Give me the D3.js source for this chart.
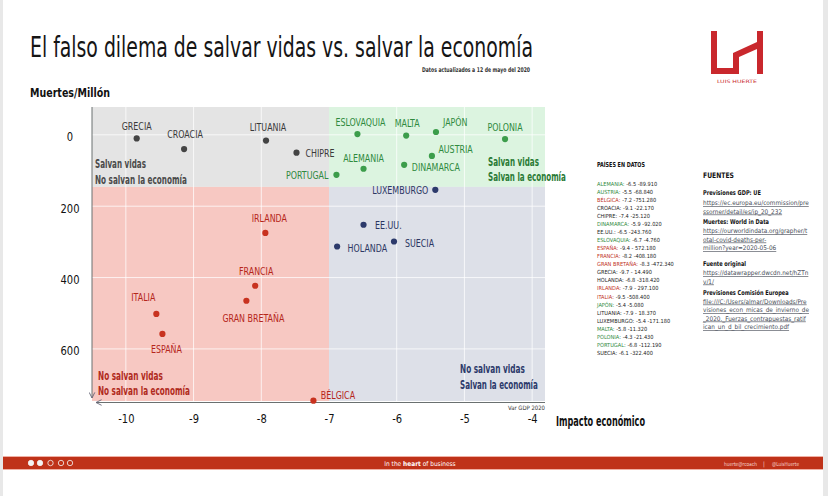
<!DOCTYPE html>
<html><head><meta charset="utf-8">
<script src="https://cdn.jsdelivr.net/npm/d3@7"></script>
<style>
body{margin:0;background:#fff;}
svg{display:block;}
</style></head>
<body>
<svg id="c" width="828" height="496"></svg>
<script>
// ---------- DATA ----------
const countries = ["GRECIA","CROACIA","LITUANIA","CHIPRE","PORTUGAL","ESLOVAQUIA","MALTA","JAPÓN","POLONIA","AUSTRIA","ALEMANIA","DINAMARCA","LUXEMBURGO","EE.UU.","HOLANDA","SUECIA","BÉLGICA","IRLANDA","FRANCIA","GRAN BRETAÑA","ITALIA","ESPAÑA"];
const gdpVar  = [-9.84,-9.14,-7.93,-7.48,-6.89,-6.58,-5.86,-5.42,-4.40,-5.48,-6.49,-5.89,-5.43,-6.49,-6.88,-6.04,-7.23,-7.94,-8.09,-8.22,-9.55,-9.46];
const deathsPM = [10,40,16,50,112,-2,2,-8,12,59,95,84,154,252,313,299,745,275,423,465,502,558];

const xTicks = [-10,-9,-8,-7,-6,-5,-4];
const yTicks = [0,200,400,600];

const listNames  = ["ALEMANIA","AUSTRIA","BÉLGICA","CROACIA","CHIPRE","DINAMARCA","EE.UU.","ESLOVAQUIA","ESPAÑA","FRANCIA","GRAN BRETAÑA","GRECIA","HOLANDA","IRLANDA","ITALIA","JAPÓN","LITUANIA","LUXEMBURGO","MALTA","POLONIA","PORTUGAL","SUECIA"];
const listGdp    = ["-6.5","-5.5","-7.2","-9.1","-7.4","-5.9","-6.5","-6.7","-9.4","-8.2","-8.3","-9.7","-6.8","-7.9","-9.5","-5.4","-7.9","-5.4","-5.8","-4.3","-6.8","-6.1"];
const listDeaths = ["-89.910","-68.840","-751.280","-22.170","-25.120","-92.020","-243.760","-4.760","- 572.180","-408.180","-472.340","- 14.490","-318.420","- 297.100","-508.400","-5.080","- 18.370","-171.180","-11.320","-21.430","-112.190","-322.400"];

const sources = [
  ["b","Previsiones GDP: UE"],
  ["l","https://ec.europa.eu/commission/pre"],
  ["l","ssorner/detail/es/ip_20_232"],
  ["b","Muertes: World in Data"],
  ["l","https://ourworldindata.org/grapher/t"],
  ["l","otal-covid-deaths-per-"],
  ["l","million?year=2020-05-06"],
  ["b","Fuente original"],
  ["l","https://datawrapper.dwcdn.net/hZTn"],
  ["l","v/1/"],
  ["b","Previsiones Comisión Europea"],
  ["l","file:///C:/Users/almar/Downloads/Pre"],
  ["l","visiones_econ_micas_de_invierno_de"],
  ["l","_2020._Fuerzas_contrapuestas_ratif"],
  ["l","ican_un_d_bil_crecimiento.pdf"]
];

// ---------- STYLE / LAYOUT ----------
const COND = "'Liberation Sans Narrow','DejaVu Sans Condensed','Roboto Condensed','Arial Narrow',sans-serif";
const SANS = COND;
const col = {
  gray:{dot:"#444",txt:"#3a3a3a",list:"#222",q:"#4a4a4a"},
  green:{dot:"#3c9d4b",txt:"#2f8a3e",list:"#2f8a3e",q:"#2a7a35"},
  navy:{dot:"#2c3a6b",txt:"#2c3763",list:"#222",q:"#2c3a6b"},
  red:{dot:"#c8321f",txt:"#b5261a",list:"#c0301e",q:"#b02a1c"}
};
// label offsets relative to dot: [dx, dy(baseline), anchor]
const labelLayout = {
  "GRECIA":[0,-8,"middle"],"CROACIA":[1,-11,"middle"],"LITUANIA":[2,-9.5,"middle"],"CHIPRE":[9,4.5,"start"],
  "PORTUGAL":[-8,4.5,"end"],"ESLOVAQUIA":[3,-8.5,"middle"],"MALTA":[1,-9,"middle"],"JAPÓN":[7,-5.5,"start"],
  "POLONIA":[0,-8.5,"middle"],"AUSTRIA":[6.5,-2.7,"start"],"ALEMANIA":[0,-6.7,"middle"],"DINAMARCA":[7.7,5.7,"start"],
  "LUXEMBURGO":[-7,4,"end"],"EE.UU.":[11.5,4,"start"],"HOLANDA":[10.5,5.6,"start"],"SUECIA":[11,5,"start"],
  "BÉLGICA":[7.4,-1.7,"start"],"IRLANDA":[4,-11,"middle"],"FRANCIA":[1,-11,"middle"],"GRAN BRETAÑA":[7,21,"middle"],
  "ITALIA":[-13,-13,"middle"],"ESPAÑA":[4,19,"middle"]
};

const svg = d3.select("#c");
svg.append("rect").attr("width",828).attr("height",496).attr("fill","#fff");
svg.append("rect").attr("x",0).attr("y",0).attr("width",3).attr("height",496).attr("fill","#e8e8e8");
svg.append("rect").attr("x",823).attr("y",0).attr("width",5).attr("height",496).attr("fill","#e8e8e8");

function T(g, x, y, s, o={}){
  const t = g.append("text").attr("x",x).attr("y",y).text(s)
    .attr("font-family",o.ff||COND).attr("font-size",o.fs||10)
    .attr("font-weight",o.fw||"normal").attr("fill",o.fill||"#111")
    .attr("text-anchor",o.anchor||"start");
  if(o.w){ t.attr("textLength",o.w).attr("lengthAdjust","spacingAndGlyphs"); }
  if(o.k){ const w=t.node().getComputedTextLength(); t.attr("textLength",w*o.k).attr("lengthAdjust","spacingAndGlyphs"); }
  if(o.ul){ t.attr("text-decoration","underline"); }
  return t;
}
// horizontally scaled text (true geometric squeeze)
function TS(g, x, y, s, target, o={}){
  const t = g.append("text").attr("x",0).attr("y",0).text(s)
    .attr("font-family",o.ff||COND).attr("font-size",o.fs||10)
    .attr("font-weight",o.fw||"normal").attr("fill",o.fill||"#111")
    .attr("text-anchor",o.anchor||"start");
  const w = t.node().getComputedTextLength();
  t.attr("transform",`translate(${x},${y}) scale(${target/w},1)`);
  return t;
}
function squeeze(sel,k){ sel.each(function(){ const w=this.getComputedTextLength(); d3.select(this).attr("textLength",w*k).attr("lengthAdjust","spacingAndGlyphs"); }); }

// Title
T(svg,30,57,"El falso dilema de salvar vidas vs. salvar la economía",{fs:29,fill:"#151515",w:503});
T(svg,530,72,"Datos actualizados a 12 de mayo del 2020",{fs:6.5,fw:"bold",fill:"#333",anchor:"end",w:108});
T(svg,30,97,"Muertes/Millón",{fs:13,fw:"bold",fill:"#111",w:80});

// Scales
const X0=-10.5, X1=-3.81, Y0=-78, Y1=746, XS=-7, YS=146;
const x = d3.scaleLinear().domain([X0,X1]).range([92,545]);
const y = d3.scaleLinear().domain([Y0,Y1]).range([107,401]);

const plot = svg.append("g");
const quads = [
  {x0:X0,x1:XS,y0:Y0,y1:YS,fill:"#e4e4e4"},
  {x0:XS,x1:X1,y0:Y0,y1:YS,fill:"#dcf4e0"},
  {x0:X0,x1:XS,y0:YS,y1:Y1,fill:"#f7c8c2"},
  {x0:XS,x1:X1,y0:YS,y1:Y1,fill:"#dde0e8"}
];
plot.selectAll("rect.q").data(quads).enter().append("rect")
  .attr("x",d=>x(d.x0)).attr("y",d=>y(d.y0))
  .attr("width",d=>x(d.x1)-x(d.x0)).attr("height",d=>y(d.y1)-y(d.y0))
  .attr("fill",d=>d.fill);

// gridlines
plot.selectAll("line.vg").data(xTicks.filter(v=>v!==-7)).enter().append("line")
  .attr("x1",d=>x(d)).attr("x2",d=>x(d)).attr("y1",y(Y0)).attr("y2",y(Y1))
  .attr("stroke","#fff").attr("stroke-width",1).attr("stroke-opacity",0.75);
plot.selectAll("line.hg").data(yTicks).enter().append("line")
  .attr("x1",x(X0)).attr("x2",x(X1)).attr("y1",d=>y(d)).attr("y2",d=>y(d))
  .attr("stroke","#fff").attr("stroke-width",1).attr("stroke-opacity",0.75);

// axis lines with arrows
const defs = svg.append("defs");
defs.append("marker").attr("id","arr").attr("viewBox","0 0 10 10").attr("refX",9).attr("refY",5)
  .attr("markerWidth",7).attr("markerHeight",7).attr("orient","auto-start-reverse")
  .append("path").attr("d","M1,1 L9,5 L1,9").attr("fill","none").attr("stroke","#667").attr("stroke-width",1.3);
svg.append("line").attr("x1",x(X0)).attr("x2",x(X0)).attr("y1",y(Y0)).attr("y2",y(Y1)-3)
  .attr("stroke","#6a7070").attr("stroke-width",1).attr("marker-end","url(#arr)");
svg.append("line").attr("x1",x(X1)).attr("x2",x(X0)+4).attr("y1",y(Y1)+1.5).attr("y2",y(Y1)+1.5)
  .attr("stroke","#6a7070").attr("stroke-width",1).attr("marker-end","url(#arr)");

// axes tick labels via d3 axes
const xAx = svg.append("g").attr("transform",`translate(0,${y(Y1)+13})`)
  .call(d3.axisBottom(x).tickValues(xTicks).tickSize(0).tickPadding(0).tickFormat(d=>d3.format("d")(d).replace("−","-")));
xAx.select(".domain").remove();
xAx.selectAll("text").attr("font-family",SANS).attr("font-size",13).attr("fill","#111");
squeeze(xAx.selectAll("text"),0.85);

const yAx = svg.append("g").attr("transform","translate(70,0)")
  .call(d3.axisLeft(y).tickValues(yTicks).tickSize(0).tickPadding(0));
yAx.select(".domain").remove();
yAx.selectAll("text").attr("font-family",SANS).attr("font-size",13).attr("fill","#111")
  .attr("text-anchor","middle").attr("x",0).attr("dy","0.45em");
squeeze(yAx.selectAll("text"),0.85);

T(svg,545,410,"Var GDP 2020",{fs:6,fill:"#333",anchor:"end",w:37});
T(svg,556,426,"Impacto económico",{fs:14,fw:"bold",fill:"#111",w:89});

// quadrant labels
const qLabels = [
  {g:"gray",x:95,y:[167.5,184],t:["Salvan vidas","No salvan la economía"]},
  {g:"green",x:488,y:[166,181],t:["Salvan vidas","Salvan la economía"]},
  {g:"red",x:98,y:[380,395],t:["No salvan vidas","No salvan la economía"]},
  {g:"navy",x:460,y:[372.5,388.5],t:["No salvan vidas","Salvan la economía"]}
];
const qW = {"Salvan vidas":51,"No salvan vidas":65,"Salvan la economía":78,"No salvan la economía":92};
qLabels.forEach(q=>q.t.forEach((s,i)=>TS(svg,q.x,q.y[i],s,qW[s],{fs:12,fw:"bold",fill:col[q.g].q})));

// points
const pts = countries.map((c,i)=>{
  const gx=gdpVar[i], gy=deathsPM[i];
  const g = gx<XS ? (gy<YS?"gray":"red") : (gy<YS?"green":"navy");
  return {c, gx, gy, g};
});
const gp = svg.append("g");
gp.selectAll("circle").data(pts).enter().append("circle")
  .attr("cx",d=>x(d.gx)).attr("cy",d=>y(d.gy)).attr("r",3.1).attr("fill",d=>col[d.g].dot);
const labs = gp.selectAll("text").data(pts).enter().append("text")
  .attr("x",d=>x(d.gx)+labelLayout[d.c][0]).attr("y",d=>y(d.gy)+labelLayout[d.c][1])
  .attr("text-anchor",d=>labelLayout[d.c][2])
  .attr("font-family",COND).attr("font-size",11).attr("fill",d=>col[d.g].txt)
  .text(d=>d.c);
squeeze(labs,0.8);

// list panel
const groupOf = {}; pts.forEach(p=>groupOf[p.c]=p.g);
T(svg,597,167,"PAÍSES EN DATOS",{fs:6.8,fw:"bold",fill:"#111",w:48});
const ly = d3.scalePoint().domain(listNames).range([185.5,355]);
listNames.forEach((n,i)=>{
  const a = T(svg,597,ly(n),n+":",{fs:5.6,fill:col[groupOf[n]].list});
  const w = a.node().getComputedTextLength();
  T(svg,597+w+1.8,ly(n),listGdp[i]+" "+listDeaths[i],{fs:5.6,fill:"#222"});
});

// sources panel
T(svg,703,178,"FUENTES",{fs:7.5,fw:"bold",fill:"#111",w:31});
const srcY = [195,205,213.5,224,233,241.5,250,265.5,275,283.5,295,303.5,312,320.5,329];
sources.forEach((s,i)=>{
  if(s[0]==="b") T(svg,703,srcY[i],s[1],{fs:6.6,fw:"bold",fill:"#111",k:0.85});
  else T(svg,703,srcY[i],s[1],{fs:6.4,fill:"#4a4f5a",ul:true});
});

// logo
const logo = svg.append("g").attr("fill","#c9282d");
logo.append("path").attr("d","M711,31 L717,31 L717,68 L733,68 L733,53 L757,42 L757,31 L763,31 L763,74 L757,74 L757,49 L739,57 L739,74 L711,74 Z");
T(svg,737,83,"LUIS HUERTE",{fs:4.5,fill:"#c9282d",anchor:"middle",w:40});

// footer
svg.append("rect").attr("x",3).attr("y",456).attr("width",820).attr("height",14).attr("fill","#f0b0a4");
svg.append("rect").attr("x",3).attr("y",457).attr("width",820).attr("height",12).attr("fill","#bf3219");
[31,40,50.5,61,70].forEach((cx,i)=>{
  svg.append("circle").attr("cx",cx).attr("cy",463).attr("r",2.7)
    .attr("fill",i<2?"#f3f3f3":"none").attr("stroke","#f3f3f3").attr("stroke-width",0.8);
});
const ft = svg.append("text").attr("x",420).attr("y",465.5).attr("text-anchor","middle")
  .attr("font-family",COND).attr("font-size",6.5).attr("fill","#fff");
ft.append("tspan").text("In the ");
ft.append("tspan").attr("font-weight","bold").text("heart");
ft.append("tspan").text(" of business");
T(svg,724,465.5,"huerte@rcoach",{fs:5.5,fill:"#f6d6d0",w:33});
T(svg,763,465.5,"|",{fs:6,fill:"#f6d6d0"});
T(svg,772,465.5,"@LuisHuerte",{fs:5.5,fill:"#f6d6d0",w:27});
</script>
</body></html>
